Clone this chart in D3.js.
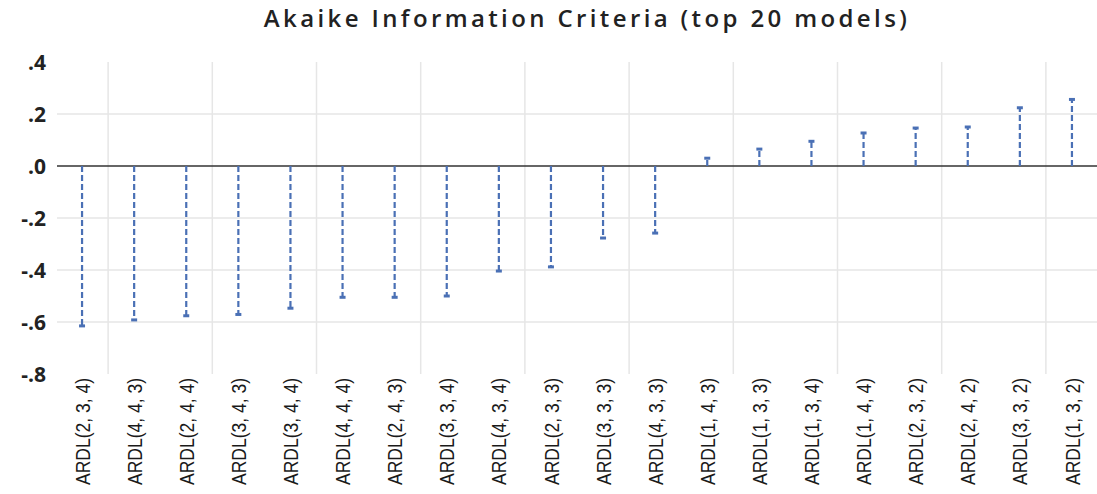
<!DOCTYPE html>
<html>
<head>
<meta charset="utf-8">
<script src="https://cdn.jsdelivr.net/npm/d3@7"></script>
<style>
    body { margin: 0; background: #fff; }
    svg { display: block; }
</style>
</head>
<body>
<svg id="chart" width="1097" height="494"></svg>
<script>
var models = ["ARDL(2, 3, 4)", "ARDL(4, 4, 3)", "ARDL(2, 4, 4)", "ARDL(3, 4, 3)", "ARDL(3, 4, 4)",
    "ARDL(4, 4, 4)", "ARDL(2, 4, 3)", "ARDL(3, 3, 4)", "ARDL(4, 3, 4)", "ARDL(2, 3, 3)",
    "ARDL(3, 3, 3)", "ARDL(4, 3, 3)", "ARDL(1, 4, 3)", "ARDL(1, 3, 3)", "ARDL(1, 3, 4)",
    "ARDL(1, 4, 4)", "ARDL(2, 3, 2)", "ARDL(2, 4, 2)", "ARDL(3, 3, 2)", "ARDL(1, 3, 2)"];
// AIC relative values
var aicValues = [-0.615, -0.592, -0.576, -0.571, -0.547, -0.505, -0.505, -0.500, -0.404, -0.388,
    -0.277, -0.258, 0.030, 0.065, 0.095, 0.127, 0.146, 0.150, 0.224, 0.256];
var yTicks = [0.4, 0.2, 0.0, -0.2, -0.4, -0.6, -0.8];
var titleText = "Akaike Information Criteria (top 20 models)";

var data = models.map(function (m, i) { return { model: m, value: aicValues[i] }; });

var svg = d3.select('#chart');
var plotLeft = 57, plotRight = 1097, plotTop = 62, plotBottom = 374;

var x = d3.scaleBand().domain(models).range([56, 1098]);
var y = d3.scaleLinear().domain([-0.8, 0.4]).range([plotBottom, plotTop]);

// grid
svg.selectAll('.vgrid')
    .data(models.filter(function (d, i) { return i % 2 == 1; }))
    .enter()
    .append('line')
    .attr('class', 'vgrid')
    .attr('x1', d => x(d))
    .attr('x2', d => x(d))
    .attr('y1', plotTop)
    .attr('y2', plotBottom)
    .style('stroke', '#e6e6e6')
    .attr('stroke-width', 1.5);

svg.selectAll('.hgrid')
    .data(yTicks.filter(function (t) { return t != 0.4 && t != -0.8 && t != 0; }))
    .enter()
    .append('line')
    .attr('class', 'hgrid')
    .attr('x1', plotLeft)
    .attr('x2', plotRight)
    .attr('y1', d => y(d))
    .attr('y2', d => y(d))
    .style('stroke', '#e6e6e6')
    .attr('stroke-width', 1.5);

// y axis labels
var axisLeft = d3.axisLeft(y).tickValues(yTicks).tickSize(0).tickPadding(0)
    .tickFormat(function (d) {
        var s = d3.format('.1f')(Math.abs(d)).replace('0.', '.');
        return (d < 0 ? '-' : '') + s;
    });
var ga = svg.append('g').attr('transform', 'translate(' + 46 + ', ' + 0 + ')').call(axisLeft);
ga.select('.domain').remove();
ga.selectAll('text')
    .attr('dy', '0.36em')
    .style('font-family', '"Open Sans", sans-serif')
    .style('font-weight', 700)
    .style('font-size', '21px')
    .style('fill', '#222');

// zero line
svg.append('line')
    .attr('x1', plotLeft).attr('x2', plotRight)
    .attr('y1', y(0)).attr('y2', y(0))
    .style('stroke', '#333')
    .attr('stroke-width', 1.6);

// stems
var stemColor = '#4a70b5';
svg.selectAll('.stem')
    .data(data)
    .enter()
    .append('line')
    .attr('class', 'stem')
    .attr('x1', d => x(d.model) + x.bandwidth() / 2)
    .attr('x2', d => x(d.model) + x.bandwidth() / 2)
    .attr('y1', y(0))
    .attr('y2', d => y(d.value))
    .style('stroke', stemColor)
    .attr('stroke-width', 2.2)
    .attr('stroke-dasharray', '6,3');

svg.selectAll('.tip')
    .data(data)
    .enter()
    .append('line')
    .attr('class', 'tip')
    .attr('x1', d => x(d.model) + x.bandwidth() / 2 - 3)
    .attr('x2', d => x(d.model) + x.bandwidth() / 2 + 3)
    .attr('y1', d => y(d.value))
    .attr('y2', d => y(d.value))
    .style('stroke', stemColor)
    .attr('stroke-width', 3);

// x labels
svg.selectAll('.xlab')
    .data(models)
    .enter()
    .append('text')
    .attr('class', 'xlab')
    .attr('transform', d => 'translate(' + (x(d) + x.bandwidth() / 2) + ', ' + 378 + ') rotate(-90)')
    .attr('text-anchor', 'end')
    .attr('dy', '0.36em')
    .attr('textLength', 107)
    .attr('lengthAdjust', 'spacingAndGlyphs')
    .style('font-family', '"Liberation Sans Narrow", "Liberation Sans", sans-serif')
    .style('font-size', '21px')
    .style('fill', '#1a1a1a')
    .text(d => d);

// title
var title = svg.append('text')
    .attr('x', 587)
    .attr('y', 27)
    .attr('text-anchor', 'middle')
    .style('font-family', '"Open Sans", sans-serif')
    .style('font-weight', 600)
    .style('font-size', '24px')
    .style('fill', '#222')
    .text(titleText);
var tw = title.node().getComputedTextLength();
title.style('letter-spacing', Math.max(0, (643 - tw) / (titleText.length - 1)) + 'px');
</script>
</body>
</html>
